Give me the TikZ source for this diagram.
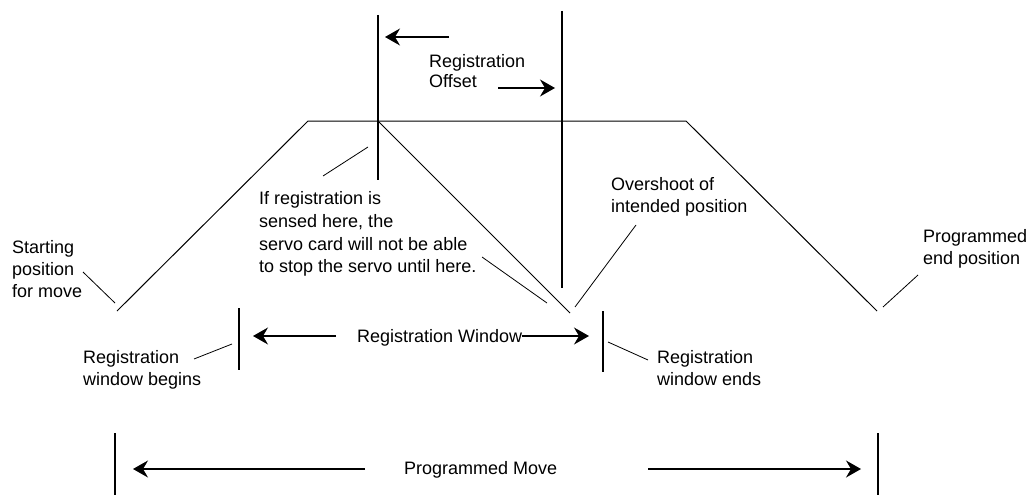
\documentclass[tikz,border=0pt]{standalone}
\usepackage{fontspec}
\setmainfont{Liberation Sans}
\usetikzlibrary{arrows.meta}
\tikzset{
  lbl/.style={anchor=base west, inner sep=0pt, font=\fontsize{18}{22}\selectfont},
  profile/.style={line width=1pt},
  bar/.style={line width=1.3pt},
  dimarrow/.style={line width=1.2pt, -{Stealth[length=15pt,width=17pt,inset=5pt]}},
  leader/.style={line width=0.8pt}
}
\begin{document}
\begin{tikzpicture}[x=1pt,y=-1pt]
\useasboundingbox (0,0) rectangle (1029,495);

% ---- motion profile coordinates
\coordinate (p0) at (117,311);
\coordinate (p1) at (308,121);
\coordinate (p2) at (686,121);
\coordinate (p3) at (877,311);
\coordinate (rs) at (378,121);
\coordinate (ov) at (570,313);

\draw[profile] (p0) -- (p1) -- (p2) -- (p3);
\draw[profile] (rs) -- (ov);

% ---- registration offset bars
\coordinate (v1t) at (378,15);  \coordinate (v1b) at (378,180);
\coordinate (v2t) at (562,11);  \coordinate (v2b) at (562,288);
\draw[bar] (v1t) -- (v1b);
\draw[bar] (v2t) -- (v2b);

\coordinate (ol0) at (449,37); \coordinate (ol1) at (385,37);
\coordinate (or0) at (498,88); \coordinate (or1) at (555,88);
\draw[dimarrow] (ol0) -- (ol1);
\draw[dimarrow] (or0) -- (or1);

\node[lbl] (off1) at (429,68) {Registration};
\node[lbl] (off2) at (429,88) {Offset};

% ---- texts
\node[lbl] (if1) at (259,204) {If registration is};
\node[lbl] (if2) at (259,227) {sensed here, the};
\node[lbl] (if3) at (259,250) {servo card will not be able};
\node[lbl] (if4) at (259,272) {to stop the servo until here.};

\node[lbl] (os1) at (611,190) {Overshoot of};
\node[lbl] (os2) at (611,212) {intended position};

\node[lbl] (st1) at (12,253) {Starting};
\node[lbl] (st2) at (12,275) {position};
\node[lbl] (st3) at (12,297) {for move};

\node[lbl] (pe1) at (923,242) {Programmed};
\node[lbl] (pe2) at (923,264) {end position};

\node[lbl] (wb1) at (83,363) {Registration};
\node[lbl] (wb2) at (83,385) {window begins};

\node[lbl] (we1) at (657,363) {Registration};
\node[lbl] (we2) at (657,385) {window ends};

% ---- leaders
\coordinate (l1a) at (368,147); \coordinate (l1b) at (323,176);
\coordinate (l2a) at (482,257); \coordinate (l2b) at (547,303);
\coordinate (l3a) at (636,225); \coordinate (l3b) at (575,307);
\coordinate (l4a) at (83,272);  \coordinate (l4b) at (115,303);
\coordinate (l5a) at (918,275); \coordinate (l5b) at (883,307);
\coordinate (l6a) at (232,344); \coordinate (l6b) at (194,359);
\coordinate (l7a) at (608,342); \coordinate (l7b) at (648,360);
\draw[leader] (l1a) -- (l1b);
\draw[leader] (l2a) -- (l2b);
\draw[leader] (l3a) -- (l3b);
\draw[leader] (l4a) -- (l4b);
\draw[leader] (l5a) -- (l5b);
\draw[leader] (l6a) -- (l6b);
\draw[leader] (l7a) -- (l7b);

% ---- registration window
\coordinate (wbt) at (239,308); \coordinate (wbb) at (239,370);
\coordinate (wet) at (603,311); \coordinate (web) at (603,372);
\draw[bar] (wbt) -- (wbb);
\draw[bar] (wet) -- (web);
\node[lbl] (rw) at (357,342) {Registration Window};
\coordinate (rwl0) at (336,336); \coordinate (rwl1) at (253,336);
\coordinate (rwr1) at (589,336);
\draw[dimarrow] (rwl0) -- (rwl1);
\draw[dimarrow] (rw.base east |- rwr1) -- (rwr1);

% ---- programmed move
\coordinate (mlt) at (115,433); \coordinate (mlb) at (115,495);
\coordinate (mrt) at (878,433); \coordinate (mrb) at (878,495);
\draw[bar] (mlt) -- (mlb);
\draw[bar] (mrt) -- (mrb);
\node[lbl] (pm) at (404,474) {Programmed Move};
\coordinate (ml0) at (365,469); \coordinate (ml1) at (133,469);
\coordinate (mr0) at (648,469); \coordinate (mr1) at (861,469);
\draw[dimarrow] (ml0) -- (ml1);
\draw[dimarrow] (mr0) -- (mr1);
\end{tikzpicture}
\end{document}
